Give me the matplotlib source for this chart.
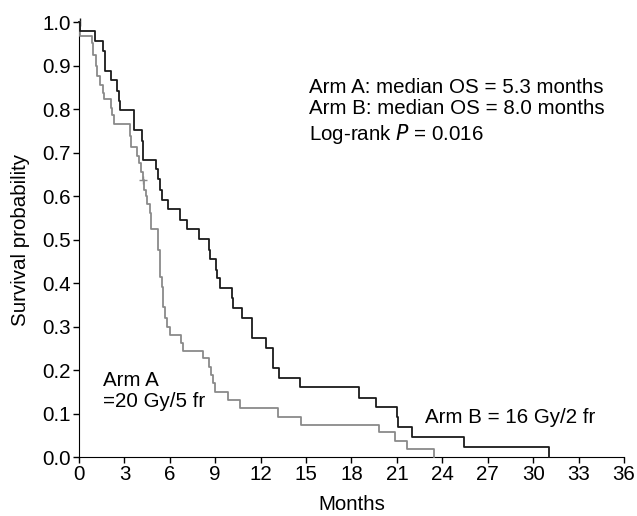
import matplotlib
matplotlib.use("Agg")
import matplotlib.pyplot as plt

plt.rcParams['font.family'] = ['Liberation Sans', 'DejaVu Sans']

# Kaplan-Meier steps (months, survival probability)
arm_a_t = [0, 0.05, 0.84, 0.95, 1.1, 1.17, 1.39, 1.61, 1.67, 2.12, 2.2, 2.34,
           3.38, 3.44, 3.82, 3.99, 4.1, 4.2, 4.3, 4.43, 4.52, 4.7, 4.74, 5.25,
           5.36, 5.47, 5.58, 5.69, 5.8, 6.02, 6.73, 6.9, 8.16, 8.56, 8.71,
           8.85, 9.0, 9.81, 10.61, 13.12, 14.67, 19.81, 20.87, 21.64, 23.45]
arm_a_s = [1.0, 0.968, 0.953, 0.926, 0.899, 0.876, 0.857, 0.838, 0.823, 0.803,
           0.788, 0.767, 0.738, 0.713, 0.692, 0.677, 0.655, 0.638, 0.615, 0.600,
           0.583, 0.561, 0.525, 0.477, 0.415, 0.392, 0.346, 0.320, 0.300, 0.281,
           0.262, 0.245, 0.227, 0.208, 0.189, 0.170, 0.150, 0.131, 0.112, 0.093,
           0.074, 0.057, 0.038, 0.018, 0.0]

arm_b_t = [0, 0.05, 1.06, 1.61, 1.72, 2.12, 2.49, 2.67, 2.74, 3.66, 4.15, 4.26,
           5.1, 5.19, 5.36, 5.47, 5.87, 6.64, 7.13, 7.96, 8.6, 8.67, 9.05, 9.11,
           9.29, 10.1, 10.2, 10.8, 11.43, 12.33, 12.84, 13.2, 14.58, 18.49,
           19.59, 20.98, 21.07, 22.02, 25.43, 31.02]
arm_b_s = [1.0, 0.980, 0.958, 0.934, 0.888, 0.867, 0.843, 0.820, 0.798, 0.752,
           0.728, 0.683, 0.662, 0.640, 0.615, 0.592, 0.571, 0.546, 0.525, 0.502,
           0.477, 0.456, 0.431, 0.412, 0.389, 0.366, 0.342, 0.320, 0.275, 0.250,
           0.206, 0.181, 0.160, 0.135, 0.115, 0.091, 0.068, 0.045, 0.024, 0.0]

# censored observations
censor_a_t = [4.25]
censor_a_s = [0.638]
censor_b_t = [0.05]
censor_b_s = [1.0]

x_ticks = list(range(0, 37, 3))
y_ticks = [0.0, 0.1, 0.2, 0.3, 0.4, 0.5, 0.6, 0.7, 0.8, 0.9, 1.0]

FS = 14.8

fig = plt.figure(figsize=(6.37, 5.16), dpi=100)
ax = fig.add_axes([0.124, 0.1143, 0.8556, 0.8421])

ax.step(arm_a_t, arm_a_s, where='post', color='#8a8a8a', lw=1.3, clip_on=False, zorder=3)
ax.step(arm_b_t, arm_b_s, where='post', color='#1a1a1a', lw=1.3, clip_on=False, zorder=4)
ax.plot(censor_a_t, censor_a_s, '+', color='#8a8a8a', ms=6, mew=1, clip_on=False)
ax.plot(censor_b_t, censor_b_s, '|', color='#1a1a1a', ms=6, mew=1, clip_on=False)

ax.set_xlim(0, 36)
ax.set_ylim(0, 1.0)
ax.set_xticks(x_ticks)
ax.set_yticks(y_ticks)
ax.set_yticklabels([f"{v:.1f}" for v in y_ticks])
ax.spines['top'].set_visible(False)
ax.spines['right'].set_visible(False)
ax.tick_params(direction='out', length=4, width=1, labelsize=FS, pad=2)
ax.set_xlabel("Months", fontsize=FS, labelpad=8)
ax.set_ylabel("Survival probability", fontsize=FS, labelpad=9)

ax.text(15.16, 0.795, "Arm A: median OS = 5.3 months\nArm B: median OS = 8.0 months\n"
        "Log-rank $\\it{P}$ = 0.016", fontsize=FS, va='center', ha='left',
        linespacing=1.18)
ax.text(1.56, 0.152, "Arm A\n=20 Gy/5 fr", fontsize=FS, va='center', ha='left',
        linespacing=1.18)
ax.text(22.83, 0.092, "Arm B = 16 Gy/2 fr", fontsize=FS, va='center', ha='left')

fig.savefig("out.png", dpi=100)
